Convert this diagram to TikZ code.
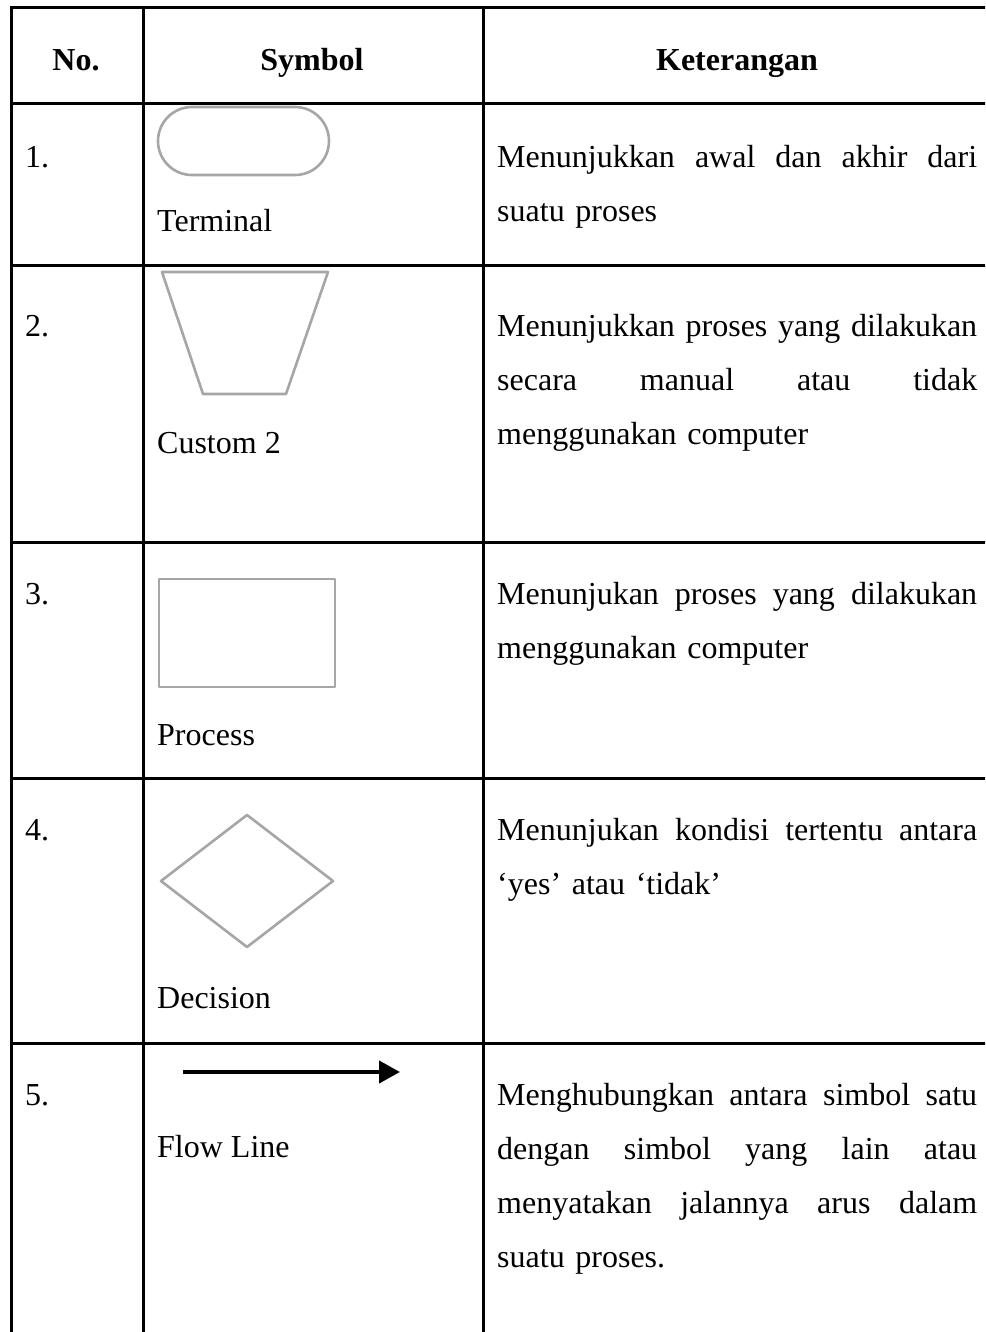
\documentclass[tikz,border=0pt]{standalone}
\usepackage{fontspec}
\setmainfont{Liberation Serif}
\usetikzlibrary{arrows.meta}
\definecolor{shapegray}{RGB}{166,166,166}
\newcommand\jl[1]{\makebox[480pt][s]{\spaceskip=0pt\xspaceskip=0pt\relax #1}}
\begin{document}
\begin{tikzpicture}[x=1pt,y=-1pt,
  grid/.style={line width=3pt, draw=black},
  shp/.style={draw=shapegray, line width=2.6pt, line join=round},
  txt/.style={font=\fontsize{32}{54}\selectfont, inner sep=0pt, anchor=base west},
  hd/.style={font=\fontsize{32}{54}\selectfont\bfseries, inner sep=0pt, anchor=base},
  para/.style={txt, text width=480pt},
  flow/.style={line width=4pt, draw=black, -{Triangle[length=21pt,width=22pt]}}]
\useasboundingbox (0,0) rectangle (985,1332);
\clip (0,0) rectangle (985,1332);
\fill[white] (0,0) rectangle (985,1332);

% table grid
\draw[grid] (11,1345) -- (11,7.5) -- (991,7.5) -- (991,1345);
\draw[grid] (143,7.5) -- (143,1345);
\draw[grid] (483,7.5) -- (483,1345);
\foreach \yy in {104,265,542,778,1043} {
  \draw[grid] (11,\yy) -- (991,\yy);
}

% header
\node[hd] (hno) at (76,71) {No.};
\node[hd] (hsym) at (312,71) {Symbol};
\node[hd] (hket) at (737,71) {Keterangan};

% numbers
\node[txt] (n1) at (25,168) {1.};
\node[txt] (n2) at (25,336) {2.};
\node[txt] (n3) at (25,604) {3.};
\node[txt] (n4) at (25,840) {4.};
\node[txt] (n5) at (25,1105) {5.};

% symbols
\draw[shp, rounded corners=34pt] (158,107) rectangle (329,175);
\draw[shp] (162,272) -- (328,272) -- (286,394) -- (203,394) -- cycle;
\draw[shp] (159,579) rectangle (335,687);
\draw[shp] (161,881) -- (247,815) -- (333,881) -- (247,947) -- cycle;
\coordinate (fa) at (183,1072);
\coordinate (fb) at (400,1072);
\draw[flow] (fa) -- (fb);

% symbol labels
\node[txt] (l1) at (157,232) {Terminal};
\node[txt] (l2) at (157,453) {Custom 2};
\node[txt] (l3) at (157,745) {Process};
\node[txt] (l4) at (157,1008) {Decision};
\node[txt] (l5) at (157,1157) {Flow Line};

% descriptions
\node[para] (k1) at (497,168) {\jl{Menunjukkan awal dan akhir dari}\\suatu proses};
\node[para] (k2) at (497,336) {\jl{Menunjukkan proses yang dilakukan}\\\jl{secara manual atau tidak}\\menggunakan computer};
\node[para] (k3) at (497,604) {\jl{Menunjukan proses yang dilakukan}\\menggunakan computer};
\node[para] (k4) at (497,840) {\jl{Menunjukan kondisi tertentu antara}\\‘yes’ atau ‘tidak’};
\node[para] (k5) at (497,1105) {\jl{Menghubungkan antara simbol satu}\\\jl{dengan simbol yang lain atau}\\\jl{menyatakan jalannya arus dalam}\\suatu proses.};
\end{tikzpicture}
\end{document}
